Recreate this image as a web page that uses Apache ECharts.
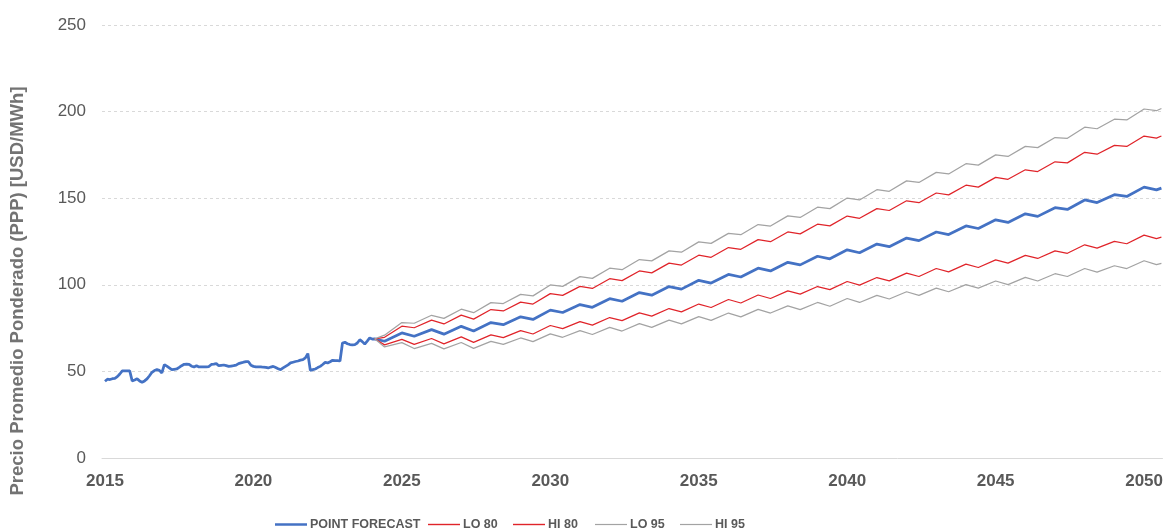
<!DOCTYPE html>
<html>
<head>
<meta charset="utf-8">
<script src="https://cdn.jsdelivr.net/npm/echarts@6/dist/echarts.min.js"></script>
<style>
  html, body { margin: 0; padding: 0; background: #ffffff; }
  #chart { width: 1166px; height: 531px; }
</style>
</head>
<body>
<div id="chart"></div>
<script>
// Monthly observed prices, starting January 2015
const historyStart = '2015-01';
const historyValues = [
  44.3, 45.5, 45.3, 45.8, 46.0, 47.0, 48.5, 50.3, 50.3, 50.3, 50.3, 44.5,
  45.0, 45.7, 44.5, 43.7, 44.5, 45.7, 47.5, 49.5, 50.5, 51.0, 50.6, 49.1,
  53.9, 53.0, 52.0, 51.0, 51.2, 51.4, 52.3, 53.3, 54.1, 54.2, 54.1, 53.0,
  52.6, 53.3, 52.6, 52.6, 52.6, 52.6, 52.8, 54.0, 54.2, 54.5, 53.3, 53.5,
  53.7, 53.3, 52.9, 53.1, 53.3, 53.6, 54.5, 54.9, 55.3, 55.6, 55.6, 53.5,
  52.9, 52.6, 52.6, 52.6, 52.4, 52.3, 52.0, 52.5, 52.9, 52.2, 51.5, 51.0,
  52.0, 52.9, 53.8, 54.9, 55.3, 55.7, 56.0, 56.5, 56.8, 57.8, 60.3, 50.6,
  51.0, 51.4, 52.2, 52.9, 54.0, 55.2, 54.9, 55.6, 56.4, 56.2, 56.2, 56.0,
  66.4, 66.8, 66.0, 65.5, 65.3, 65.5, 66.4, 68.3, 67.2, 65.8, 67.5, 69.3,
  68.7
];

// Forecast horizon (seasonal highs in January, lows mid-year)
const forecastMonths = [
  '2024-02', '2024-06',
  '2025-01', '2025-06', '2026-01', '2026-06', '2027-01', '2027-06', '2028-01', '2028-06',
  '2029-01', '2029-06', '2030-01', '2030-06', '2031-01', '2031-06', '2032-01', '2032-06',
  '2033-01', '2033-06', '2034-01', '2034-06', '2035-01', '2035-06', '2036-01', '2036-06',
  '2037-01', '2037-06', '2038-01', '2038-06', '2039-01', '2039-06', '2040-01', '2040-06',
  '2041-01', '2041-06', '2042-01', '2042-06', '2043-01', '2043-06', '2044-01', '2044-06',
  '2045-01', '2045-06', '2046-01', '2046-06', '2047-01', '2047-06', '2048-01', '2048-06',
  '2049-01', '2049-06', '2050-01', '2050-06', '2050-08'
];
const pointForecast = [
  68.8, 67.4,
  72.2, 70.3, 74.1, 71.5, 76.0, 73.3, 78.2, 77.0,
  81.5, 80.0, 85.4, 84.0, 88.6, 87.0, 92.0, 90.5,
  95.5, 94.0, 99.0, 97.5, 102.6, 101.0, 106.0, 104.5,
  109.6, 108.0, 113.0, 111.5, 116.5, 115.0, 120.2, 118.5,
  123.5, 122.0, 127.0, 125.5, 130.5, 129.0, 134.0, 132.5,
  137.5, 136.0, 141.0, 139.5, 144.5, 143.5, 149.0, 147.5,
  152.0, 151.0, 156.4, 154.8, 155.8
];
const lo80 = [
  68.8, 65.3,
  68.5, 65.6, 69.0, 65.9, 69.9, 66.8, 71.1, 69.5,
  73.5, 71.6, 76.5, 74.7, 78.7, 76.7, 81.1, 79.3,
  83.8, 81.9, 86.3, 84.4, 88.9, 86.9, 91.5, 89.5,
  94.1, 92.1, 96.5, 94.6, 99.0, 97.2, 101.9, 99.8,
  104.2, 102.3, 106.7, 104.8, 109.4, 107.5, 111.9, 110.0,
  114.4, 112.5, 117.0, 115.2, 119.6, 118.2, 123.1, 121.2,
  125.1, 123.7, 128.7, 126.7, 127.5
];
const hi80 = [
  68.8, 69.7,
  76.1, 75.2, 79.6, 77.4, 82.5, 80.2, 85.7, 84.9,
  90.0, 88.9, 94.9, 93.9, 99.1, 97.9, 103.5, 102.4,
  108.0, 106.9, 112.5, 111.4, 117.1, 115.9, 121.5, 120.5,
  126.1, 124.9, 130.5, 129.4, 135.0, 134.0, 139.7, 138.4,
  144.0, 142.9, 148.5, 147.4, 153.0, 151.9, 157.5, 156.4,
  162.0, 160.9, 166.4, 165.4, 171.0, 170.4, 176.5, 175.4,
  180.5, 179.9, 185.9, 184.7, 185.9
];
const lo95 = [
  68.8, 64.1,
  66.6, 63.2, 66.2, 63.0, 66.7, 63.3, 67.3, 65.6,
  69.3, 67.2, 71.7, 69.7, 73.5, 71.3, 75.4, 73.3,
  77.6, 75.4, 79.6, 77.4, 81.6, 79.5, 83.7, 81.5,
  85.8, 83.7, 87.8, 85.7, 89.8, 87.6, 92.1, 89.8,
  93.9, 91.8, 96.0, 93.9, 98.1, 96.0, 100.1, 98.1,
  102.2, 100.1, 104.3, 102.2, 106.4, 104.8, 109.4, 107.3,
  111.0, 109.4, 113.9, 111.7, 112.4
];
const hi95 = [
  68.8, 70.9,
  78.2, 77.8, 82.4, 80.6, 85.9, 83.9, 89.7, 89.2,
  94.5, 93.6, 99.9, 99.1, 104.7, 103.7, 109.6, 108.7,
  114.6, 113.8, 119.6, 118.8, 124.8, 123.9, 129.7, 128.9,
  134.8, 133.9, 139.8, 138.9, 144.8, 144.0, 150.1, 149.0,
  154.9, 154.0, 160.0, 159.1, 164.9, 164.0, 169.9, 169.1,
  175.0, 174.1, 179.9, 179.2, 185.0, 184.6, 191.0, 190.1,
  195.6, 195.2, 201.5, 200.5, 201.8
];

const yearTicks = [2015, 2020, 2025, 2030, 2035, 2040, 2045, 2050];
const seriesNames = ['POINT FORECAST', 'LO 80', 'HI 80', 'LO 95', 'HI 95'];
const yAxisTitle = 'Precio Promedio Ponderado (PPP) [USD/MWh]';

// 'YYYY-MM' -> fractional year on the value axis
function monthToYear(s) {
  const [y, m] = s.split('-').map(Number);
  return y + (m - 1) / 12;
}
function addMonths(s, n) {
  const [y, m] = s.split('-').map(Number);
  const t = y * 12 + (m - 1) + n;
  return Math.floor(t / 12) + '-' + String(t % 12 + 1).padStart(2, '0');
}

const historyMonths = historyValues.map((_, i) => addMonths(historyStart, i));
const pairs = (months, values) => months.map((d, i) => [monthToYear(d), values[i]]);

const pointData = pairs(historyMonths, historyValues).concat(pairs(forecastMonths, pointForecast));

const BLUE = '#4472C4';
const RED = '#E0242A';
const GREY = '#A3A3A3';
const TEXT = '#595959';
const FONT = "'Liberation Sans', Arial, sans-serif";

function lineSeries(name, data, color, width) {
  return {
    name: name,
    type: 'line',
    data: data,
    symbol: 'none',
    showSymbol: false,
    smooth: false,
    lineStyle: { color: color, width: width },
    itemStyle: { color: color },
    emphasis: { disabled: true },
    animation: false
  };
}

// One legend block per entry so each sits at its own spot along the bottom
const legendLeft = [275, 428, 513, 595, 680];
const legendColors = [BLUE, RED, RED, GREY, GREY];
const legendThickness = [2.5, 1.4, 1.4, 1.2, 1.2];
const legends = seriesNames.map((name, i) => ({
  data: [{ name: name, icon: 'rect', itemStyle: { color: legendColors[i] } }],
  left: legendLeft[i],
  top: 518,
  orient: 'horizontal',
  itemWidth: 32,
  itemHeight: legendThickness[i],
  padding: 0,
  selectedMode: false,
  textStyle: {
    color: TEXT,
    fontSize: 12.5,
    fontWeight: 'bold',
    fontFamily: FONT,
    padding: [0, 0, 0, -2]
  }
}));

const chart = echarts.init(document.getElementById('chart'), null, { renderer: 'canvas' });
chart.setOption({
  animation: false,
  backgroundColor: '#ffffff',
  grid: { left: 102, right: 0, top: 25, bottom: 73, containLabel: false },
  xAxis: {
    type: 'value',
    min: 2014.9,
    max: 2050.62,
    axisLine: { show: true, lineStyle: { color: '#D9D9D9', width: 1 } },
    axisTick: { show: false },
    splitLine: { show: false },
    axisLabel: {
      customValues: yearTicks,
      formatter: v => String(Math.round(v)),
      color: TEXT,
      fontSize: 17,
      fontWeight: 'bold',
      fontFamily: FONT,
      margin: 15
    }
  },
  yAxis: {
    type: 'value',
    min: 0,
    max: 250,
    interval: 50,
    axisLine: { show: false },
    axisTick: { show: false },
    splitLine: { show: true, lineStyle: { color: '#D9D9D9', width: 1, type: [3, 3] } },
    axisLabel: { color: TEXT, fontSize: 17, fontFamily: FONT, margin: 16 }
  },
  legend: legends,
  graphic: [{
    type: 'text',
    x: 18,
    y: 291,
    rotation: Math.PI / 2,
    style: {
      text: yAxisTitle,
      fill: '#737373',
      font: "bold 18.5px 'Liberation Sans', Arial, sans-serif",
      align: 'center',
      verticalAlign: 'middle'
    }
  }],
  series: [
    lineSeries(seriesNames[0], pointData, BLUE, 2.75),
    lineSeries(seriesNames[1], pairs(forecastMonths, lo80), RED, 1.25),
    lineSeries(seriesNames[2], pairs(forecastMonths, hi80), RED, 1.25),
    lineSeries(seriesNames[3], pairs(forecastMonths, lo95), GREY, 1.25),
    lineSeries(seriesNames[4], pairs(forecastMonths, hi95), GREY, 1.25)
  ]
});
</script>
</body>
</html>
